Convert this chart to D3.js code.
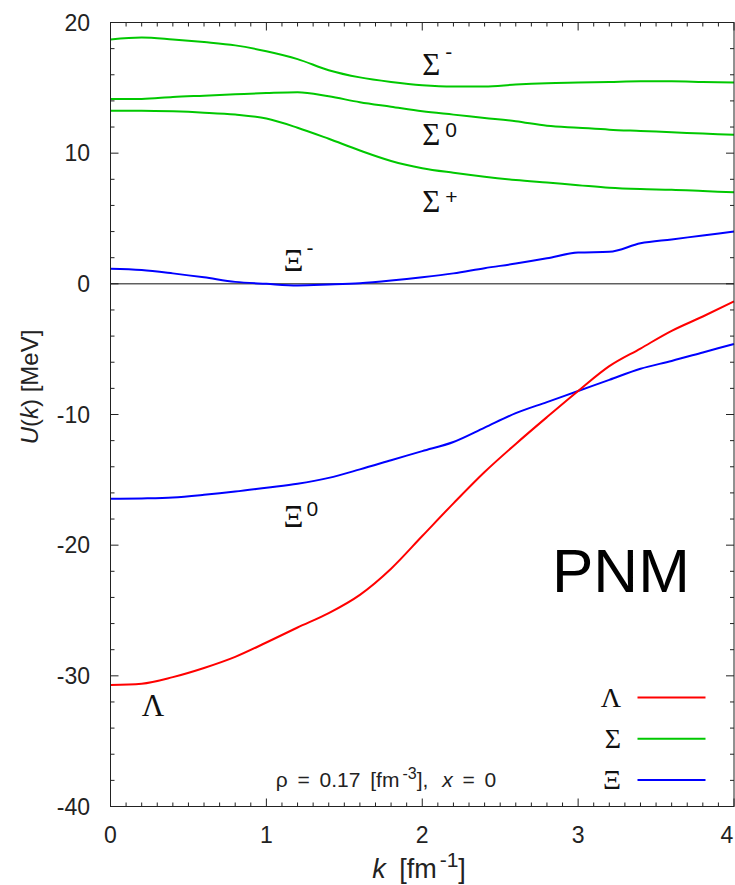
<!DOCTYPE html>
<html lang="en">
<head>
    <meta charset="UTF-8">
    <title>U(k) PNM</title>
    <style>
        body { margin: 0; background: #fff; }
        .tick-label { font-family: "Liberation Sans", Arial, sans-serif; font-size: 23px; fill: #222; }
        .greek { font-family: "Liberation Serif", "DejaVu Serif", serif; fill: #111; }
        .sup { font-family: "Liberation Sans", Arial, sans-serif; fill: #111; }
        .curve { fill: none; stroke-width: 2px; }
    </style>
</head>
<body>
    <script src="https://d3js.org/d3.v7.min.js"></script>
    <script>
        // momentum grid [fm^-1]
        const kValues = [0, 0.2, 0.4, 0.6, 0.8, 1.0, 1.2, 1.4, 1.6, 1.8, 2.0,
                         2.2, 2.4, 2.6, 2.8, 3.0, 3.2, 3.4, 3.6, 3.8, 4.0];

        // single particle potentials U(k) [MeV]
        const sigmaMinus = [18.7, 18.85, 18.7, 18.5, 18.25, 17.8, 17.2, 16.35, 15.8, 15.45, 15.2,
                            15.1, 15.1, 15.25, 15.35, 15.4, 15.45, 15.5, 15.5, 15.45, 15.4];
        const sigmaZero = [14.15, 14.15, 14.3, 14.4, 14.5, 14.6, 14.67, 14.35, 13.9, 13.55, 13.2,
                           12.95, 12.7, 12.45, 12.1, 11.95, 11.8, 11.7, 11.6, 11.5, 11.4];
        const sigmaPlus = [13.25, 13.25, 13.2, 13.1, 12.95, 12.65, 11.95, 11.1, 10.2, 9.4, 8.85,
                           8.5, 8.2, 7.95, 7.75, 7.55, 7.35, 7.25, 7.2, 7.1, 7.0];
        const xiMinus = [1.15, 1.05, 0.8, 0.5, 0.15, 0.0, -0.12, -0.05, 0.05, 0.25, 0.5,
                         0.8, 1.2, 1.55, 1.95, 2.4, 2.45, 3.1, 3.4, 3.7, 4.0];
        const xiZero = [-16.45, -16.42, -16.35, -16.15, -15.9, -15.6, -15.3, -14.85, -14.2, -13.5, -12.8,
                        -12.1, -11.0, -9.9, -9.05, -8.2, -7.35, -6.5, -5.9, -5.25, -4.6];
        const lambda = [-30.7, -30.6, -30.1, -29.4, -28.55, -27.45, -26.3, -25.2, -23.8, -21.8, -19.3,
                        -16.8, -14.4, -12.25, -10.2, -8.2, -6.3, -4.95, -3.6, -2.5, -1.35];

        const xTicks = [0, 1, 2, 3, 4];
        const yTicks = [-40, -30, -20, -10, 0, 10, 20];

        const colors = { lambda: "#ff0000", sigma: "#00c800", xi: "#0000ff" };

        const series = [
            { values: sigmaMinus, color: colors.sigma },
            { values: sigmaZero, color: colors.sigma },
            { values: sigmaPlus, color: colors.sigma },
            { values: xiMinus, color: colors.xi },
            { values: xiZero, color: colors.xi },
            { values: lambda, color: colors.lambda }
        ];

        // curve labels
        const curveLabels = [
            { name: "Σ", sup: "-", k: 2.0, u: 16.0, supDy: -16 },
            { name: "Σ", sup: "0", k: 2.0, u: 10.65, supDy: -8 },
            { name: "Σ", sup: "+", k: 2.0, u: 5.5, supDy: -8 },
            { name: "Ξ", sup: "-", k: 1.11, u: 1.0, supDy: -16 },
            { name: "Ξ", sup: "0", k: 1.11, u: -18.6, supDy: -11 },
            { name: "Λ", sup: "", k: 0.2, u: -33.1, supDy: 0 }
        ];

        const legendItems = [
            { name: "Λ", color: colors.lambda },
            { name: "Σ", color: colors.sigma },
            { name: "Ξ", color: colors.xi }
        ];

        const width = 735;
        const height = 885;
        const margin = { top: 22.5, right: 1, bottom: 78.5, left: 110.5 };

        const svg = d3.select("body").append("svg")
            .attr("width", width)
            .attr("height", height);

        const x = d3.scaleLinear().domain([0, 4]).range([margin.left, width - margin.right]);
        const y = d3.scaleLinear().domain([-40, 20]).range([height - margin.bottom, margin.top]);

        const x0 = x(0), x1 = x(4), yTop = y(20), yBot = y(-40);

        // ticks on all four sides
        const ticksG = svg.append("g").attr("stroke", "#222").attr("stroke-width", 1);
        d3.range(0, 40.5).map(i => i / 10).forEach(v => {
            const len = Number.isInteger(v) ? 8 : 4;
            ticksG.append("line").attr("x1", x(v)).attr("x2", x(v)).attr("y1", yBot).attr("y2", yBot - len);
            ticksG.append("line").attr("x1", x(v)).attr("x2", x(v)).attr("y1", yTop).attr("y2", yTop + len);
        });
        d3.range(-40, 21, 2).forEach(v => {
            const len = v % 10 === 0 ? 8 : 4;
            ticksG.append("line").attr("y1", y(v)).attr("y2", y(v)).attr("x1", x0).attr("x2", x0 + len);
            ticksG.append("line").attr("y1", y(v)).attr("y2", y(v)).attr("x1", x1).attr("x2", x1 - len);
        });

        // zero line
        svg.append("line")
            .attr("x1", x0).attr("x2", x1)
            .attr("y1", y(0)).attr("y2", y(0))
            .attr("stroke", "#111").attr("stroke-width", 1);

        // tick labels
        svg.append("g").selectAll("text")
            .data(xTicks).enter().append("text")
            .attr("class", "tick-label")
            .attr("x", d => Math.min(x(d), width - 8))
            .attr("y", 843)
            .attr("text-anchor", "middle")
            .text(d => d);

        svg.append("g").selectAll("text")
            .data(yTicks).enter().append("text")
            .attr("class", "tick-label")
            .attr("x", 90)
            .attr("y", d => y(d) + 8)
            .attr("text-anchor", "end")
            .text(d => d);

        // curves
        const line = d3.line()
            .x((d, i) => x(kValues[i]))
            .y(d => y(d))
            .curve(d3.curveMonotoneX);

        svg.append("g").selectAll("path")
            .data(series).enter().append("path")
            .attr("class", "curve")
            .attr("stroke", d => d.color)
            .attr("d", d => line(d.values));

        // frame
        svg.append("rect")
            .attr("x", x0).attr("y", yTop)
            .attr("width", x1 - x0).attr("height", yBot - yTop)
            .attr("fill", "none").attr("stroke", "#222").attr("stroke-width", 1);

        // curve labels
        curveLabels.forEach(d => {
            svg.append("text")
                .attr("class", "greek")
                .attr("x", x(d.k))
                .attr("y", y(d.u))
                .attr("font-size", 31)
                .text(d.name);
            if (d.sup) {
                svg.append("text")
                    .attr("class", "sup")
                    .attr("x", x(d.k) + 23)
                    .attr("y", y(d.u) + d.supDy)
                    .attr("font-size", 21)
                    .text(d.sup);
            }
        });

        // legend
        const legend = svg.append("g");
        legendItems.forEach((d, i) => {
            const ly = 697.5 + i * 41.3;
            legend.append("text")
                .attr("class", "greek")
                .attr("x", 621)
                .attr("y", ly + 9)
                .attr("text-anchor", "end")
                .attr("font-size", 28)
                .text(d.name);
            legend.append("line")
                .attr("x1", 637.5).attr("x2", 705.5)
                .attr("y1", ly).attr("y2", ly)
                .attr("stroke", d.color).attr("stroke-width", 2);
        });

        // PNM tag
        svg.append("text")
            .attr("x", 552)
            .attr("y", 592)
            .attr("font-family", "Liberation Sans, Arial, sans-serif")
            .attr("font-size", 62)
            .attr("fill", "#000")
            .text("PNM");

        // density annotation
        const note = svg.append("text")
            .attr("x", 386)
            .attr("y", 787)
            .attr("text-anchor", "middle")
            .attr("font-family", "Liberation Sans, Arial, sans-serif")
            .attr("font-size", 21)
            .attr("word-spacing", 4)
            .attr("fill", "#222");
        note.append("tspan").text("ρ = 0.17 [fm");
        note.append("tspan").attr("dx", 3).attr("dy", -8).attr("font-size", 16).text("-3");
        note.append("tspan").attr("dy", 8).text("], ");
        note.append("tspan").attr("dx", 4).attr("font-style", "italic").text("x");
        note.append("tspan").text(" = 0");

        // axis titles
        const xTitle = svg.append("text")
            .attr("x", 419)
            .attr("y", 878)
            .attr("text-anchor", "middle")
            .attr("font-family", "Liberation Sans, Arial, sans-serif")
            .attr("font-size", 27)
            .attr("fill", "#222");
        xTitle.append("tspan").attr("font-style", "italic").text("k");
        xTitle.append("tspan").attr("dx", 6).text(" [fm");
        xTitle.append("tspan").attr("dx", 3).attr("dy", -11).attr("font-size", 21).text("-1");
        xTitle.append("tspan").attr("dy", 11).text("]");

        const yTitle = svg.append("text")
            .attr("transform", "translate(38,387) rotate(-90)")
            .attr("text-anchor", "middle")
            .attr("font-family", "Liberation Sans, Arial, sans-serif")
            .attr("font-size", 24)
            .attr("fill", "#222");
        yTitle.append("tspan").attr("font-style", "italic").text("U");
        yTitle.append("tspan").text("(");
        yTitle.append("tspan").attr("font-style", "italic").text("k");
        yTitle.append("tspan").text(") [MeV]");
    </script>
</body>
</html>
